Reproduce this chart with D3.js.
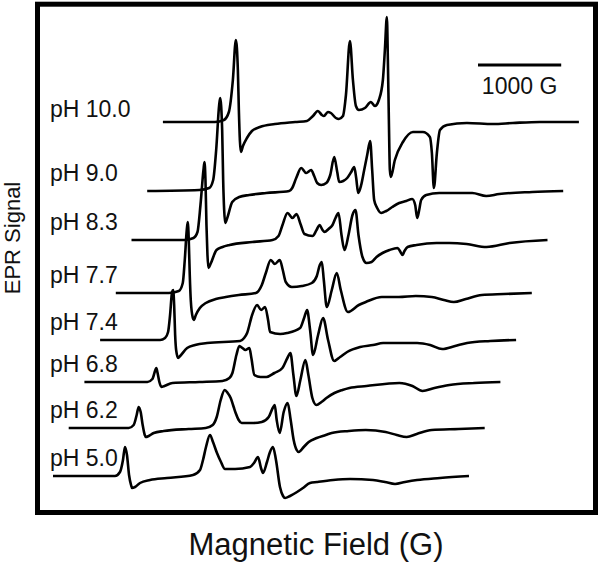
<html>
<head>
    <title>EPR spectra vs pH</title>
    <script src="https://d3js.org/d3.v7.min.js"></script>
    <style>
        body {
            margin: 0;
            background-color: white;
            font-family: Arial, "Liberation Sans", sans-serif;
        }
        svg text {
            fill: #111;
        }
    </style>
</head>
<body>
    <svg id="epr" width="600" height="565"></svg>

    <script>
        // spectra: [field (G, from start of sweep), signal (a.u.)]
        const labels = ["pH 10.0", "pH 9.0", "pH 8.3", "pH 7.7", "pH 7.4", "pH 6.8", "pH 6.2", "pH 5.0"];

        // vertical waterfall offset of each trace (signal units)
        const offsets = [354, 285, 236, 183, 136, 94, 48, 0];

        const ph100 = [[0,0],[625,0],[733,2],[793,10],[841,42],[877,82],[901,52],[913,12],[925,-18],[937,-30],
            [962,-24],[1010,-16],[1070,-9],[1166,-5],[1346,-2],[1590,0],[1731,1],[1803,6],[1863,11],[1911,7],
            [1935,6],[1983,10],[2019,9],[2079,4],[2115,3],[2164,6],[2200,27],[2248,81],[2284,42],[2320,16],
            [2356,12],[2428,14],[2500,20],[2548,16],[2596,22],[2644,42],[2668,72],[2692,105],[2704,62],[2716,2],
            [2728,-48],[2740,-55],[2788,-38],[2885,-20],[3005,-10],[3125,-10],[3209,-15],[3233,-31],[3257,-66],
            [3293,-31],[3330,-8],[3414,-3],[3654,-1],[3967,-2],[4207,-1],[4530,0],[5000,0]];

        const ph90 = [[0,0],[625,1],[745,3],[793,11],[829,41],[865,86],[877,93],[901,61],[913,11],[925,-19],
            [937,-32],[962,-27],[1022,-11],[1106,-6],[1226,-4],[1430,-2],[1707,0],[1743,3],[1791,13],[1851,23],
            [1911,18],[1971,21],[2007,15],[2043,8],[2091,6],[2152,8],[2200,16],[2248,34],[2284,19],[2308,9],
            [2356,10],[2404,13],[2452,19],[2488,24],[2512,13],[2536,-2],[2572,6],[2608,21],[2644,36],[2680,50],
            [2704,21],[2728,-9],[2764,-17],[2812,-22],[2873,-20],[2945,-16],[3029,-12],[3113,-10],[3185,-8],
            [3221,-14],[3245,-27],[3269,-19],[3293,-9],[3354,-4],[3510,-2],[3907,-2],[4075,-5],[4231,-3],
            [4628,-1],[5000,0]];

        const ph83 = [[0,0],[637,0],[745,2],[793,8],[829,35],[865,70],[877,78],[889,60],[901,15],[913,-15],
            [925,-28],[950,-24],[1022,-10],[1094,-7],[1178,-5],[1454,-2],[1695,0],[1767,4],[1815,15],[1875,27],
            [1935,22],[1983,26],[2031,16],[2079,6],[2176,4],[2224,10],[2260,15],[2296,10],[2320,8],[2368,11],
            [2416,15],[2452,22],[2488,27],[2524,5],[2560,-10],[2608,5],[2656,25],[2692,30],[2728,5],[2776,-17],
            [2825,-23],[2885,-22],[2945,-17],[3017,-13],[3101,-10],[3197,-8],[3233,-12],[3257,-15],[3281,-11],
            [3318,-7],[3426,-5],[3666,-3],[3822,-3],[4027,-4],[4267,-7],[4544,-3],[5000,0]];

        const ph77 = [[0,0],[637,0],[757,2],[805,10],[829,33],[853,63],[865,71],[877,53],[889,18],[901,-7],
            [926,-25],[938,-27],[962,-22],[1010,-15],[1082,-10],[1202,-6],[1322,-4],[1478,-2],[1683,0],[1755,8],
            [1803,20],[1863,33],[1911,29],[1971,33],[2007,23],[2043,11],[2116,6],[2236,7],[2356,10],[2416,17],
            [2452,28],[2476,31],[2500,13],[2536,-14],[2596,3],[2656,20],[2704,3],[2789,-19],[2921,-12],
            [3005,-9],[3197,-4],[3402,-4],[3606,-3],[3798,-4],[3943,-7],[4063,-9],[4207,-6],[4399,-2],
            [4664,-1],[5000,0]];

        const ph74 = [[0,0],[721,0],[781,2],[817,8],[841,25],[865,48],[878,50],[890,35],[902,5],[914,-10],
            [938,-18],[962,-16],[1046,-8],[1142,-5],[1286,-3],[1683,-1],[1731,2],[1767,7],[1827,25],[1887,35],
            [1935,30],[1983,33],[2019,20],[2043,8],[2164,6],[2248,7],[2404,12],[2452,22],[2488,30],[2524,10],
            [2560,-15],[2620,5],[2680,22],[2740,0],[2813,-21],[2885,-17],[2969,-12],[3125,-7],[3281,-5],
            [3402,-3],[3810,-3],[3967,-5],[4111,-9],[4267,-6],[4411,-3],[4688,-1],[5000,0]];

        const ph68 = [[0,0],[757,0],[817,3],[853,12],[865,14],[877,10],[901,0],[926,-5],[962,-4],[1058,-1],
            [1382,0],[1659,1],[1743,4],[1779,9],[1827,27],[1863,36],[1899,34],[1935,32],[1983,34],[2007,24],
            [2043,7],[2116,5],[2188,5],[2284,9],[2380,14],[2440,24],[2476,29],[2512,7],[2548,-14],[2596,2],
            [2656,22],[2692,7],[2740,-16],[2789,-23],[2849,-20],[2909,-16],[3005,-11],[3101,-8],[3185,-6],
            [3390,-4],[3786,-1],[3943,-4],[4063,-9],[4207,-6],[4387,-3],[4688,-1],[5000,0]];

        const ph62 = [[0,0],[721,0],[781,3],[817,13],[841,21],[865,16],[889,3],[914,-7],[926,-9],[962,-8],
            [1022,-5],[1142,-3],[1442,-1],[1647,0],[1731,3],[1779,11],[1827,28],[1875,38],[1911,35],[1947,30],
            [1983,21],[2007,15],[2043,8],[2079,5],[2224,5],[2320,6],[2404,11],[2452,20],[2476,23],[2500,8],
            [2536,-5],[2584,16],[2632,25],[2668,8],[2704,-12],[2740,-22],[2765,-24],[2825,-19],[2885,-14],
            [2981,-10],[3089,-7],[3161,-5],[3366,-3],[3570,-2],[3810,-4],[3943,-7],[4063,-9],[4183,-6],
            [4363,-2],[4688,-1],[5000,0]];

        const ph50 = [[0,0],[745,0],[805,4],[841,16],[865,29],[889,21],[914,1],[938,-9],[950,-12],[986,-11],
            [1046,-7],[1166,-4],[1370,-2],[1683,1],[1767,6],[1803,16],[1839,29],[1887,41],[1923,34],[1971,23],
            [2019,14],[2067,7],[2188,7],[2368,9],[2416,13],[2464,19],[2500,8],[2524,3],[2572,14],[2608,24],
            [2644,29],[2680,16],[2728,-11],[2765,-20],[2789,-22],[2849,-20],[2933,-16],[3005,-12],[3089,-7],
            [3173,-6],[3366,-4],[3570,-3],[3846,-4],[3990,-6],[4111,-8],[4231,-6],[4375,-4],[4652,-2],[5000,0]];

        const spectra = [ph100, ph90, ph83, ph77, ph74, ph68, ph62, ph50];
        const scaleBarG = 1000;

        const svg = d3.select("#epr");

        // field scale for the bottom trace, signal scale shared by all traces
        const x = d3.scaleLinear().domain([0, 5000]).range([53, 469]);
        const y = d3.scaleLinear().domain([0, 100]).range([476, 376]);
        const stepX = 15.7; // waterfall shift per trace

        // frame
        svg.append("rect")
            .attr("x", 37.5)
            .attr("y", 4.2)
            .attr("width", 558)
            .attr("height", 508.3)
            .attr("fill", "none")
            .attr("stroke", "#000")
            .attr("stroke-width", 5);

        const line = d3.line()
            .x(d => x(d[0]))
            .y(d => y(d[1]))
            .curve(d3.curveMonotoneX);

        spectra.forEach((s, i) => {
            const k = spectra.length - 1 - i;
            svg.append("path")
                .datum(s.map(d => [d[0], d[1] + offsets[i]]))
                .attr("transform", "translate(" + (k * stepX) + ",0)")
                .attr("d", line)
                .attr("fill", "none")
                .attr("stroke", "#000")
                .attr("stroke-width", 2.6)
                .attr("stroke-linejoin", "round");

            svg.append("text")
                .attr("x", 50)
                .attr("y", y(offsets[i]) - (i === 0 ? 5 : 10))
                .style("font-size", "23px")
                .text(labels[i]);
        });

        // 1000 G scale bar
        const barX = 478;
        svg.append("line")
            .attr("x1", barX)
            .attr("x2", barX + x(scaleBarG) - x(0))
            .attr("y1", 65)
            .attr("y2", 65)
            .attr("stroke", "#000")
            .attr("stroke-width", 3);
        svg.append("text")
            .attr("x", barX + (x(scaleBarG) - x(0)) / 2)
            .attr("y", 94)
            .attr("text-anchor", "middle")
            .style("font-size", "23px")
            .text(scaleBarG + " G");

        // axis titles
        svg.append("text")
            .attr("transform", "translate(20,238) rotate(-90)")
            .attr("text-anchor", "middle")
            .style("font-size", "22px")
            .text("EPR Signal");

        svg.append("text")
            .attr("x", 316)
            .attr("y", 555)
            .attr("text-anchor", "middle")
            .style("font-size", "31px")
            .text("Magnetic Field (G)");
    </script>
</body>
</html>
